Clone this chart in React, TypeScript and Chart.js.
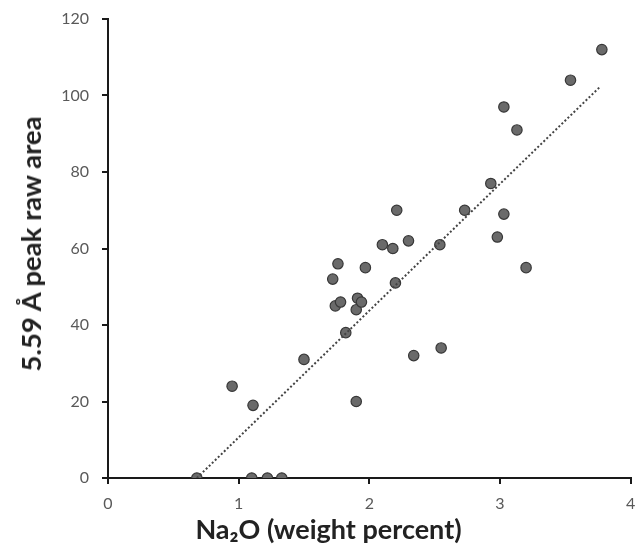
import React, { useEffect, useRef } from "react";
import { Chart, registerables } from "chart.js";

Chart.register(...registerables);

// Na2O weight percent (x) and 5.59 Å peak raw area (y)
const na2o = [
  0.68, 1.1, 1.22, 1.33, 0.95, 1.11, 1.5, 1.9, 1.82, 1.9, 1.91, 1.94, 1.74, 1.78, 1.72, 1.76, 1.97,
  3.78, 3.54, 3.03, 3.13, 2.93, 2.21, 2.73, 3.03, 2.98, 2.3, 2.1, 2.18, 2.54, 3.2, 2.2, 2.34, 2.55,
];
const peakArea = [
  0, 0, 0, 0, 24, 19, 31, 20, 38, 44, 47, 46, 45, 46, 52, 56, 55,
  112, 104, 97, 91, 77, 70, 70, 69, 63, 62, 61, 60, 61, 55, 51, 32, 34,
];
// linear trendline end points
const trendX = [0.68, 3.77];
const trendY = [0, 102.4];

const xTicks = [0, 1, 2, 3, 4];
const yTicks = [0, 20, 40, 60, 80, 100, 120];

const xTitle = "Na₂O (weight percent)";
const yTitle = "5.59 Å peak raw area";

const W = 637;
const H = 547;
const FONT = "Lato, 'Open Sans', sans-serif";

export default function App() {
  const ref = useRef<HTMLCanvasElement | null>(null);

  useEffect(() => {
    document.body.style.margin = "0";
    const canvas = ref.current;
    if (!canvas) return;
    const scatterPts = na2o.map((x, i) => ({ x, y: peakArea[i] }));
    const trendPts = trendX.map((x, i) => ({ x, y: trendY[i] }));
    const axisColor = "#1a1a1a";
    const chart = new Chart(canvas, {
      type: "scatter",
      data: {
        datasets: [
          {
            label: "trend",
            data: trendPts,
            showLine: true,
            pointRadius: 0,
            borderColor: "#444",
            borderWidth: 2,
            borderDash: [2, 2.2],
            order: 0,
          },
          {
            label: "samples",
            data: scatterPts,
            pointRadius: 5.2,
            pointBackgroundColor: "#6a6a6a",
            pointBorderColor: "#383838",
            pointBorderWidth: 1.2,
            order: 1,
          },
        ],
      },
      options: {
        animation: false,
        responsive: false,
        devicePixelRatio: 1,
        layout: { padding: { top: 19, right: 3, left: 0, bottom: 0 } },
        plugins: {
          legend: { display: false },
          tooltip: { enabled: false },
        },
        scales: {
          x: {
            type: "linear",
            min: xTicks[0],
            max: xTicks[xTicks.length - 1],
            afterBuildTicks: (s: any) => {
              s.ticks = xTicks.map((v) => ({ value: v }));
            },
            afterFit: (s: any) => {
              s.height = 69;
              s.paddingLeft = 0;
              s.paddingRight = 0;
            },
            border: { display: true, color: axisColor, width: 2 },
            grid: {
              display: true,
              drawOnChartArea: false,
              drawTicks: true,
              tickLength: 6,
              color: axisColor,
              lineWidth: 2,
            },
            ticks: {
              color: "#595959",
              font: { family: FONT, size: 16 },
              padding: 10,
              maxRotation: 0,
            },
          },
          y: {
            type: "linear",
            min: yTicks[0],
            max: yTicks[yTicks.length - 1],
            afterBuildTicks: (s: any) => {
              s.ticks = yTicks.map((v) => ({ value: v }));
            },
            afterFit: (s: any) => {
              s.width = 108;
              s.paddingTop = 0;
              s.paddingBottom = 0;
            },
            border: { display: true, color: axisColor, width: 2 },
            grid: {
              display: true,
              drawOnChartArea: false,
              drawTicks: true,
              tickLength: 6,
              color: axisColor,
              lineWidth: 2,
            },
            ticks: {
              color: "#595959",
              font: { family: FONT, size: 16 },
              padding: 13,
            },
          },
        },
      },
    });
    return () => chart.destroy();
  }, []);

  return (
    <div style={{ position: "relative", width: W, height: H, background: "#fff", overflow: "hidden" }}>
      <canvas ref={ref} width={W} height={H} style={{ position: "absolute", left: 0, top: 0 }} />
      <div
        style={{
          position: "absolute",
          left: 0,
          width: 657,
          top: 514,
          textAlign: "center",
          fontFamily: FONT,
          fontWeight: 700,
          fontSize: 27,
          lineHeight: "30px",
          color: "#222",
          whiteSpace: "nowrap",
        }}
      >
        {xTitle}
      </div>
      <div
        style={{
          position: "absolute",
          left: 31,
          top: 244,
          transform: "translate(-50%, -50%) rotate(-90deg)",
          fontFamily: FONT,
          fontWeight: 700,
          fontSize: 27.5,
          lineHeight: "30px",
          color: "#222",
          whiteSpace: "nowrap",
        }}
      >
        {yTitle}
      </div>
    </div>
  );
}
